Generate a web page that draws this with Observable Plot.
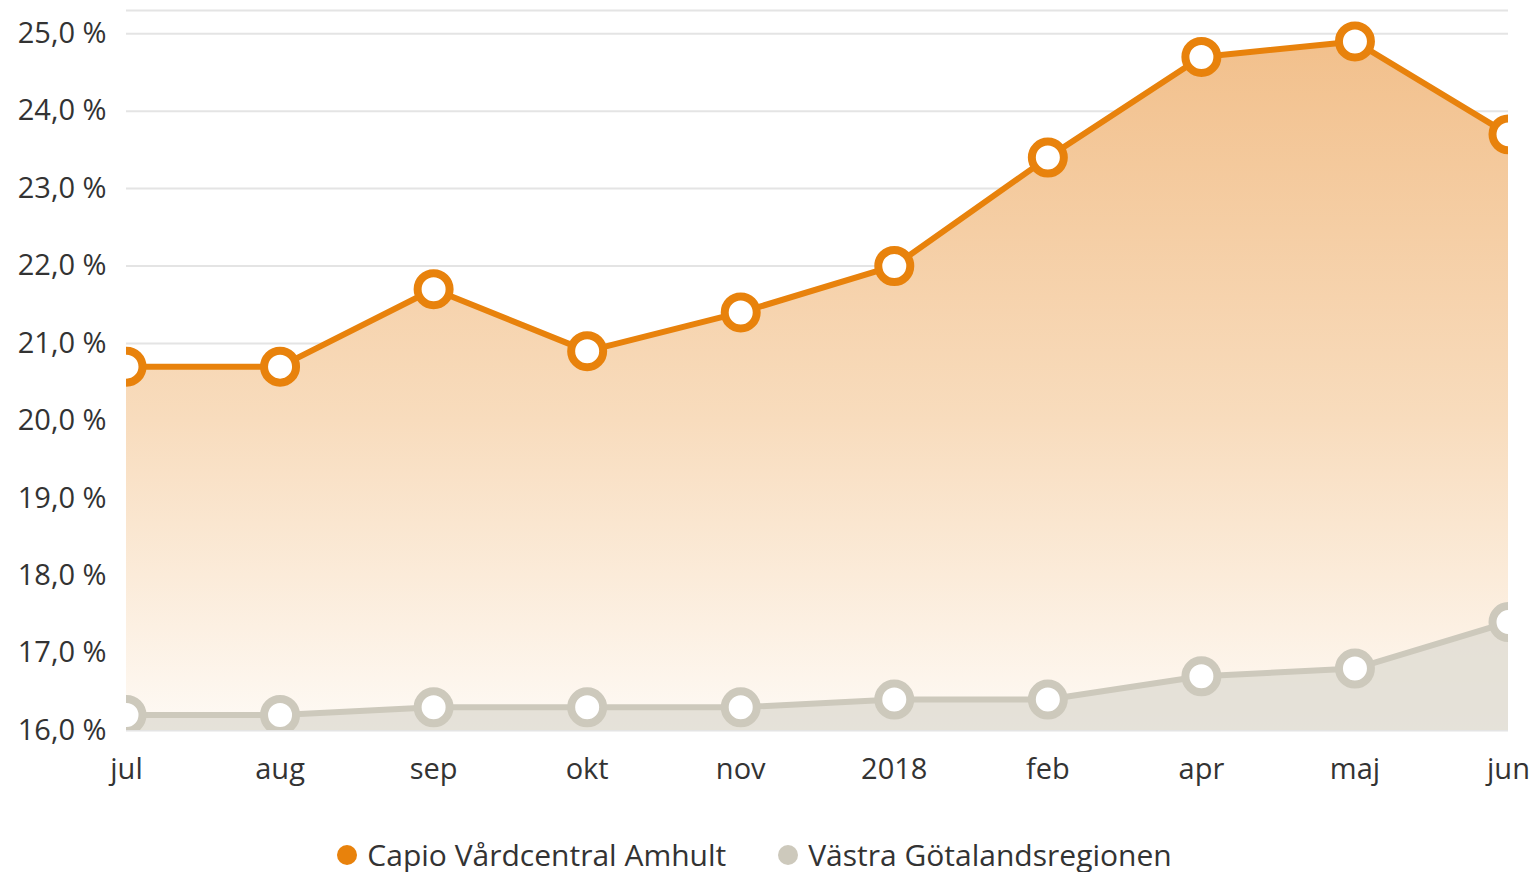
<!DOCTYPE html>
<html>
<head>
<meta charset="utf-8">
<script src="https://cdn.jsdelivr.net/npm/d3@7"></script>
<script src="https://cdn.jsdelivr.net/npm/@observablehq/plot@0.6"></script>
<style>
  html, body { margin: 0; padding: 0; background: #fff; }
  body { font-family: "Open Sans", sans-serif; width: 1537px; height: 872px; overflow: hidden; }
  #legend { display: flex; justify-content: center; align-items: center; gap: 52px; margin-top: 34px; font-size: 30px; color: #333; padding-right: 28px; }
  #legend span.item { display: flex; align-items: center; gap: 10px; }
  #legend span.sw { width: 20px; height: 20px; border-radius: 50%; display: inline-block; }
</style>
</head>
<body>
<div id="chart"></div>
<div id="legend"></div>
<script>
const months = ["jul", "aug", "sep", "okt", "nov", "2018", "feb", "apr", "maj", "jun"];
const capio = [20.7, 20.7, 21.7, 20.9, 21.4, 22.0, 23.4, 24.7, 24.9, 23.7];
const vgr = [16.2, 16.2, 16.3, 16.3, 16.3, 16.4, 16.4, 16.7, 16.8, 17.4];
const yTicks = [16, 17, 18, 19, 20, 21, 22, 23, 24, 25];
const seriesNames = ["Capio Vårdcentral Amhult", "Västra Götalandsregionen"];
const seriesColors = ["#e8820c", "#cdc9bc"];

const capioData = months.map((m, i) => ({month: m, value: capio[i]}));
const vgrData = months.map((m, i) => ({month: m, value: vgr[i]}));
const fmt = d => d.toFixed(1).replace(".", ",") + " %";

const plot = Plot.plot({
  width: 1537,
  height: 800,
  marginTop: 10,
  marginBottom: 70,
  marginLeft: 126,
  marginRight: 29,
  style: {fontFamily: "Open Sans, sans-serif", fontSize: "29px", color: "#333", background: "#fff"},
  x: {type: "point", domain: months, padding: 0, round: false, label: null, tickSize: 0, tickPadding: 28},
  y: {domain: [16, 25.3], ticks: yTicks, tickFormat: fmt, label: null, tickSize: 0, tickPadding: 20},
  marks: [
    Plot.ruleY(yTicks.concat([25.3]), {stroke: "#e4e4e4", strokeWidth: 2}),
    Plot.areaY(capioData, {x: "month", y1: 16, y2: "value", fill: "url(#capioGrad)", clip: true}),
    Plot.areaY(vgrData, {x: "month", y1: 16, y2: "value", fill: "#e0ddd4", fillOpacity: 0.85, clip: true}),
    Plot.line(vgrData, {x: "month", y: "value", stroke: seriesColors[1], strokeWidth: 6, clip: true}),
    Plot.dot(vgrData, {x: "month", y: "value", r: 16, fill: "#fff", stroke: seriesColors[1], strokeWidth: 8, clip: true}),
    Plot.line(capioData, {x: "month", y: "value", stroke: seriesColors[0], strokeWidth: 6, clip: true}),
    Plot.dot(capioData, {x: "month", y: "value", r: 16, fill: "#fff", stroke: seriesColors[0], strokeWidth: 8, clip: true})
  ]
});

const svg = d3.select(plot);
const defs = svg.insert("defs", ":first-child");
const grad = defs.append("linearGradient").attr("id", "capioGrad")
  .attr("x1", 0).attr("y1", 0).attr("x2", 0).attr("y2", 1);
grad.append("stop").attr("offset", "0%").attr("stop-color", "#f2c08c");
grad.append("stop").attr("offset", "55%").attr("stop-color", "#f8dcbd");
grad.append("stop").attr("offset", "100%").attr("stop-color", "#fefaf5");
svg.selectAll("[aria-label='y-axis tick label'] text, [aria-label='x-axis tick label'] text").attr("fill", "#333");

document.getElementById("chart").appendChild(plot);

const legend = document.getElementById("legend");
seriesNames.forEach((name, i) => {
  const item = document.createElement("span");
  item.className = "item";
  const sw = document.createElement("span");
  sw.className = "sw";
  sw.style.background = seriesColors[i];
  const t = document.createElement("span");
  t.textContent = name;
  item.appendChild(sw);
  item.appendChild(t);
  legend.appendChild(item);
});
</script>
</body>
</html>
